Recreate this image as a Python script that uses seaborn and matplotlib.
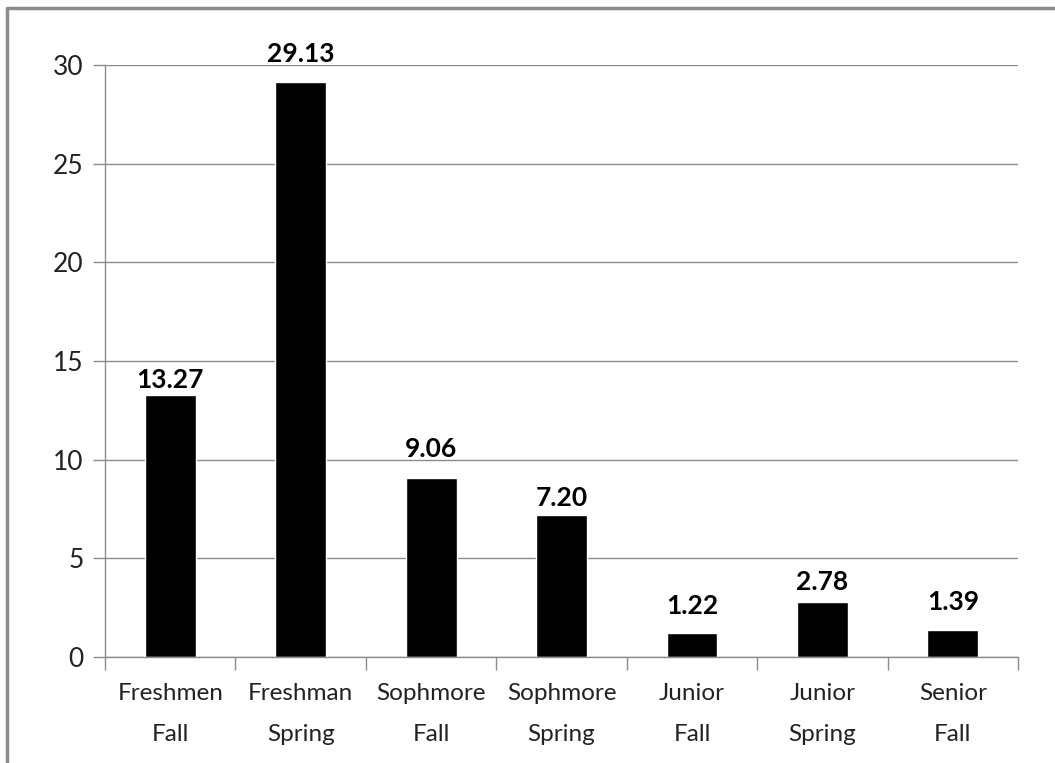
import pandas as pd
import seaborn as sns
import matplotlib.pyplot as plt
from matplotlib.lines import Line2D

categories = ["Freshmen\nFall", "Freshman\nSpring", "Sophmore\nFall", "Sophmore\nSpring",
              "Junior\nFall", "Junior\nSpring", "Senior\nFall"]
values = [13.27, 29.13, 9.06, 7.20, 1.22, 2.78, 1.39]
y_ticks = [0, 5, 10, 15, 20, 25, 30]

# gap (pixels) between bar top and label baseline, as laid out in the original
label_gaps = [7, 20, 21, 9, 19, 12, 20]

df = pd.DataFrame({"term": categories, "value": values})

sns.set_style("white")
plt.rcParams['font.family'] = ['Lato', 'DejaVu Sans']

fig = plt.figure(figsize=(10.55, 7.63), dpi=100)
ax = fig.add_axes([0.0995, 0.139, 0.8655, 0.776])

sns.barplot(data=df, x="term", y="value", color="black", width=0.39,
            saturation=1, ax=ax)

ax.set_ylim(0, 30)
ax.set_xlim(-0.5, len(categories) - 0.5)
ax.set_yticks(y_ticks)
ax.yaxis.grid(True, color="#8c8c8c", linewidth=1)
ax.set_axisbelow(True)
ax.set_xlabel("")
ax.set_ylabel("")

for side in ["top", "right"]:
    ax.spines[side].set_visible(False)
for side in ["left", "bottom"]:
    ax.spines[side].set_color("#8c8c8c")
    ax.spines[side].set_linewidth(1)

# category ticks sit between bars, Excel style
ax.set_xticks(range(len(categories)))
ax.set_xticklabels(categories, linespacing=2.2)
ax.set_xticks([i - 0.5 for i in range(len(categories) + 1)], minor=True)
ax.tick_params(axis="x", which="minor", length=9, color="#8c8c8c", width=1, bottom=True, direction="out")
ax.tick_params(axis="x", which="major", length=0, pad=18.5, labelsize=17.5, colors="#222222")
ax.tick_params(axis="y", length=9, color="#8c8c8c", width=1, pad=6.5, labelsize=19,
               labelcolor="#222222", direction="out", left=True)

for i, v in enumerate(values):
    ax.annotate(f"{v:.2f}", xy=(i, v), xytext=(0, label_gaps[i] * 0.72),
                textcoords="offset points", ha="center", va="baseline",
                fontsize=19, fontweight="bold", color="black", annotation_clip=False)

# outer frame of the chart area (left and top only, as cropped)
fig.add_artist(Line2D([0.0062, 0.0062], [0, 0.9895], transform=fig.transFigure,
                      color="#8c8c8c", linewidth=2.5))
fig.add_artist(Line2D([0.0062, 1], [0.9895, 0.9895], transform=fig.transFigure,
                      color="#8c8c8c", linewidth=2.5))

fig.savefig("out.png", dpi=100)
